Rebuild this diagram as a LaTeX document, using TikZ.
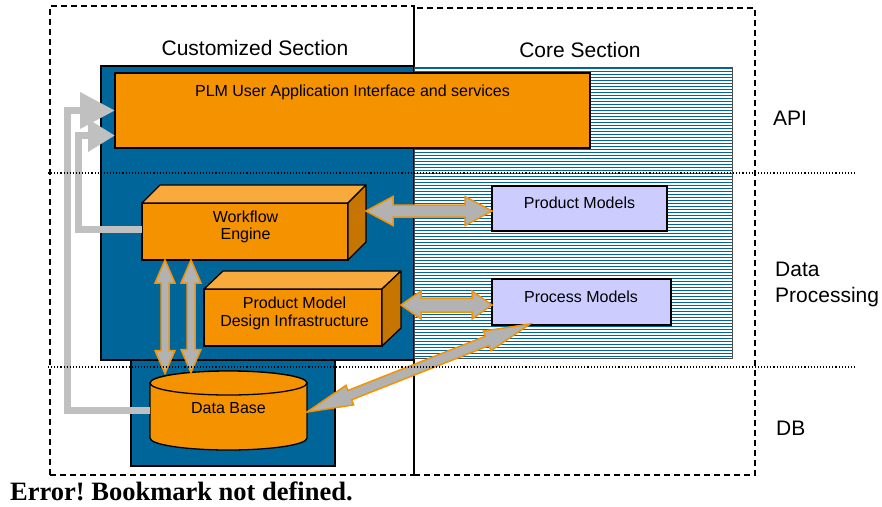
\documentclass[tikz,border=0pt]{standalone}
\usepackage{fontspec}
\setmainfont{Liberation Sans}
\newfontfamily\serifcap{Liberation Serif}
\usetikzlibrary{calc,arrows.meta}
\definecolor{blueC}{RGB}{0,102,153}
\definecolor{orangeF}{RGB}{245,146,0}
\definecolor{orangeT}{RGB}{248,170,60}
\definecolor{orangeS}{RGB}{197,117,0}
\definecolor{arrgray}{RGB}{178,178,178}
\definecolor{conngray}{RGB}{192,192,192}
\definecolor{lav}{RGB}{204,204,255}
\frenchspacing
\newcommand\dblarr[5]{%
  \coordinate (da1) at ($(#1)!#5!(#2)$);
  \coordinate (db1) at ($(#2)!#5!(#1)$);
  \draw[blockarrow] (#1) -- ($(da1)!#4!90:(#2)$) -- ($(da1)!#3!90:(#2)$)
    -- ($(db1)!#3!-90:(#1)$) -- ($(db1)!#4!-90:(#1)$) -- (#2)
    -- ($(db1)!#4!90:(#1)$) -- ($(db1)!#3!90:(#1)$)
    -- ($(da1)!#3!-90:(#2)$) -- ($(da1)!#4!-90:(#2)$) -- cycle;
}
\begin{document}
\begin{tikzpicture}[x=1pt,y=-1pt,
  sect/.style={draw=black, line width=1.2pt, dash pattern=on 6pt off 4pt, inner sep=0pt, outer sep=0pt},
  dotline/.style={draw=black, line width=1.1pt, dash pattern=on 1.1pt off 2pt},
  bluebox/.style={draw=black, fill=blueC, line width=1.3pt, inner sep=0pt, outer sep=0pt},
  obox/.style={draw=black, fill=orangeF, line width=1.3pt, inner sep=0pt, outer sep=0pt},
  otop/.style={draw=black, fill=orangeT, line width=1.3pt, line join=round},
  oside/.style={draw=black, fill=orangeS, line width=1.3pt, line join=round},
  lbox/.style={draw=black, fill=lav, line width=1.3pt, inner sep=0pt, outer sep=0pt},
  hatchline/.style={draw=blueC, line width=1pt},
  blockarrow/.style={draw=orangeF, fill=arrgray, line width=1.5pt, line join=miter},
  conn/.style={draw=conngray, line width=7pt},
  tsmall/.style={inner sep=0pt, font=\fontsize{16}{19}\selectfont},
  tbig/.style={inner sep=0pt, font=\fontsize{21}{25}\selectfont}]
\useasboundingbox (0,0) rectangle (882,506);
% section frames
\node[sect, minimum width=364pt, minimum height=469pt] (leftbox) at (232,240.5) {};
\node[sect, minimum width=341pt, minimum height=467pt] (rightbox) at (584.5,241.5) {};
\draw[black, line width=0.8pt] (leftbox.north east) -- (leftbox.south east);
% blue areas
\node[bluebox, minimum width=204pt, minimum height=106pt] (dbbase) at (233,413) {};
\node[bluebox, minimum width=313pt, minimum height=294pt] (cust) at (257.5,213) {};
% hatched core area
\node[draw=none, fill=white, minimum width=318pt, minimum height=291pt, inner sep=0pt, outer sep=0pt] (core) at (573,212.5) {};
\foreach \k in {0,...,96}
  \draw[hatchline] ($(core.north west)+(0,1.5+3*\k)$) -- ($(core.north east)+(0,1.5+3*\k)$);
\draw[draw=black!70, line width=0.8pt] (core.north west) rectangle (core.south east);
% main boxes
\node[obox, minimum width=475pt, minimum height=75pt] (plm) at (352.5,110.5) {};
\node[obox, minimum width=206pt, minimum height=57pt] (wf) at (245,231.5) {};
\draw[otop] (wf.north west) -- ++(18,-18) -- ($(wf.north east)+(18,-18)$) -- (wf.north east) -- cycle;
\draw[oside] (wf.north east) -- ++(18,-18) -- ($(wf.south east)+(18,-18)$) -- (wf.south east) -- cycle;
\node[obox, minimum width=178pt, minimum height=57pt] (pmdi) at (293,317.5) {};
\draw[otop] (pmdi.north west) -- ++(19,-18) -- ($(pmdi.north east)+(19,-18)$) -- (pmdi.north east) -- cycle;
\draw[oside] (pmdi.north east) -- ++(19,-18) -- ($(pmdi.south east)+(19,-18)$) -- (pmdi.south east) -- cycle;
\node[lbox, minimum width=175pt, minimum height=45pt] (pm) at (579.5,208.5) {};
\node[lbox, minimum width=179pt, minimum height=46pt] (proc) at (581.5,302) {};
% data base cylinder
\node[draw=none, minimum width=157pt, minimum height=79pt, inner sep=0pt, outer sep=0pt] (db) at (228.5,410.5) {};
\draw[obox] ($(db.north west)+(0,12)$) -- ($(db.south west)+(0,-12)$)
  arc[start angle=180, end angle=0, x radius=78.5, y radius=12]
  -- ($(db.north east)+(0,12)$)
  arc[start angle=0, end angle=-180, x radius=78.5, y radius=12] -- cycle;
\draw[obox] ($(db.north)+(0,12)$) ellipse[x radius=78.5, y radius=12];
% grey feedback connectors
\coordinate (c1) at (67.5,110.5);
\coordinate (c2) at (78.5,135.5);
\draw[conn, -{Triangle[length=35pt,width=35pt]}] ($(db.west)+(0,0)$) -| (c1) -- (plm.west);
\draw[conn, -{Triangle[length=27pt,width=31pt]}] ($(wf.west)+(0,-2.5)$) -| (c2) -- (c2 -| plm.west);
% block arrows
\coordinate (s1) at ($(wf.north east)+(18,8)$);
\coordinate (e1) at (s1 -| pm.west);
\dblarr{s1}{e1}{6pt}{14.5pt}{27pt}
\coordinate (s2) at ($(pmdi.north east)+(19,16)$);
\coordinate (e2) at (s2 -| proc.west);
\dblarr{s2}{e2}{7pt}{14pt}{20pt}
\coordinate (v1a) at ($(wf.south west)+(23,0)$);
\coordinate (v1b) at ($(db.north west)+(15,2.5)$);
\dblarr{v1a}{v1b}{4pt}{10pt}{23pt}
\coordinate (v2a) at ($(wf.south west)+(49,0)$);
\coordinate (v2b) at ($(db.north west)+(41,1.5)$);
\dblarr{v2a}{v2b}{4pt}{10pt}{23pt}
\coordinate (d1) at ($(db.east)+(0,1.5)$);
\coordinate (d2) at ($(proc.south west)+(38,-1)$);
\dblarr{d1}{d2}{5pt}{10.5pt}{46pt}
% layer separators
\draw[dotline] (48,173) -- (855,173);
\draw[dotline] (48,367) -- (855,367);
% texts
\node[tbig, anchor=base] (custlbl) at (255,55) {Customized Section};
\node[tbig, anchor=base] (corelbl) at (580,57) {Core Section};
\node[tsmall, anchor=base] (plmlbl) at (352.5,96) {PLM User Application Interface and services};
\node[tsmall, anchor=base] (wf1) at (245.5,222) {Workflow};
\node[tsmall, anchor=base] (wf2) at (245.5,239.5) {Engine};
\node[tsmall, anchor=base] (pd1) at (294.5,308) {Product Model};
\node[tsmall, anchor=base] (pd2) at (294.5,326) {Design Infrastructure};
\node[tsmall, anchor=base] (pmlbl) at (579.5,208) {Product Models};
\node[tsmall, anchor=base] (proclbl) at (581,302) {Process Models};
\node[tsmall, anchor=base] (dblbl) at (228.5,413) {Data Base};
\node[tbig, anchor=base west] (api) at (773,125) {API};
\node[tbig, anchor=base west] (dp1) at (775,276.5) {Data};
\node[tbig, anchor=base west] (dp2) at (775,302) {Processing};
\node[tbig, anchor=base west] (dbl) at (776,435) {DB};
\node[anchor=base west, inner sep=0pt, font=\serifcap\bfseries\fontsize{26.5}{30}\selectfont] (cap) at (10,500) {Error! Bookmark not defined.};
\end{tikzpicture}
\end{document}
